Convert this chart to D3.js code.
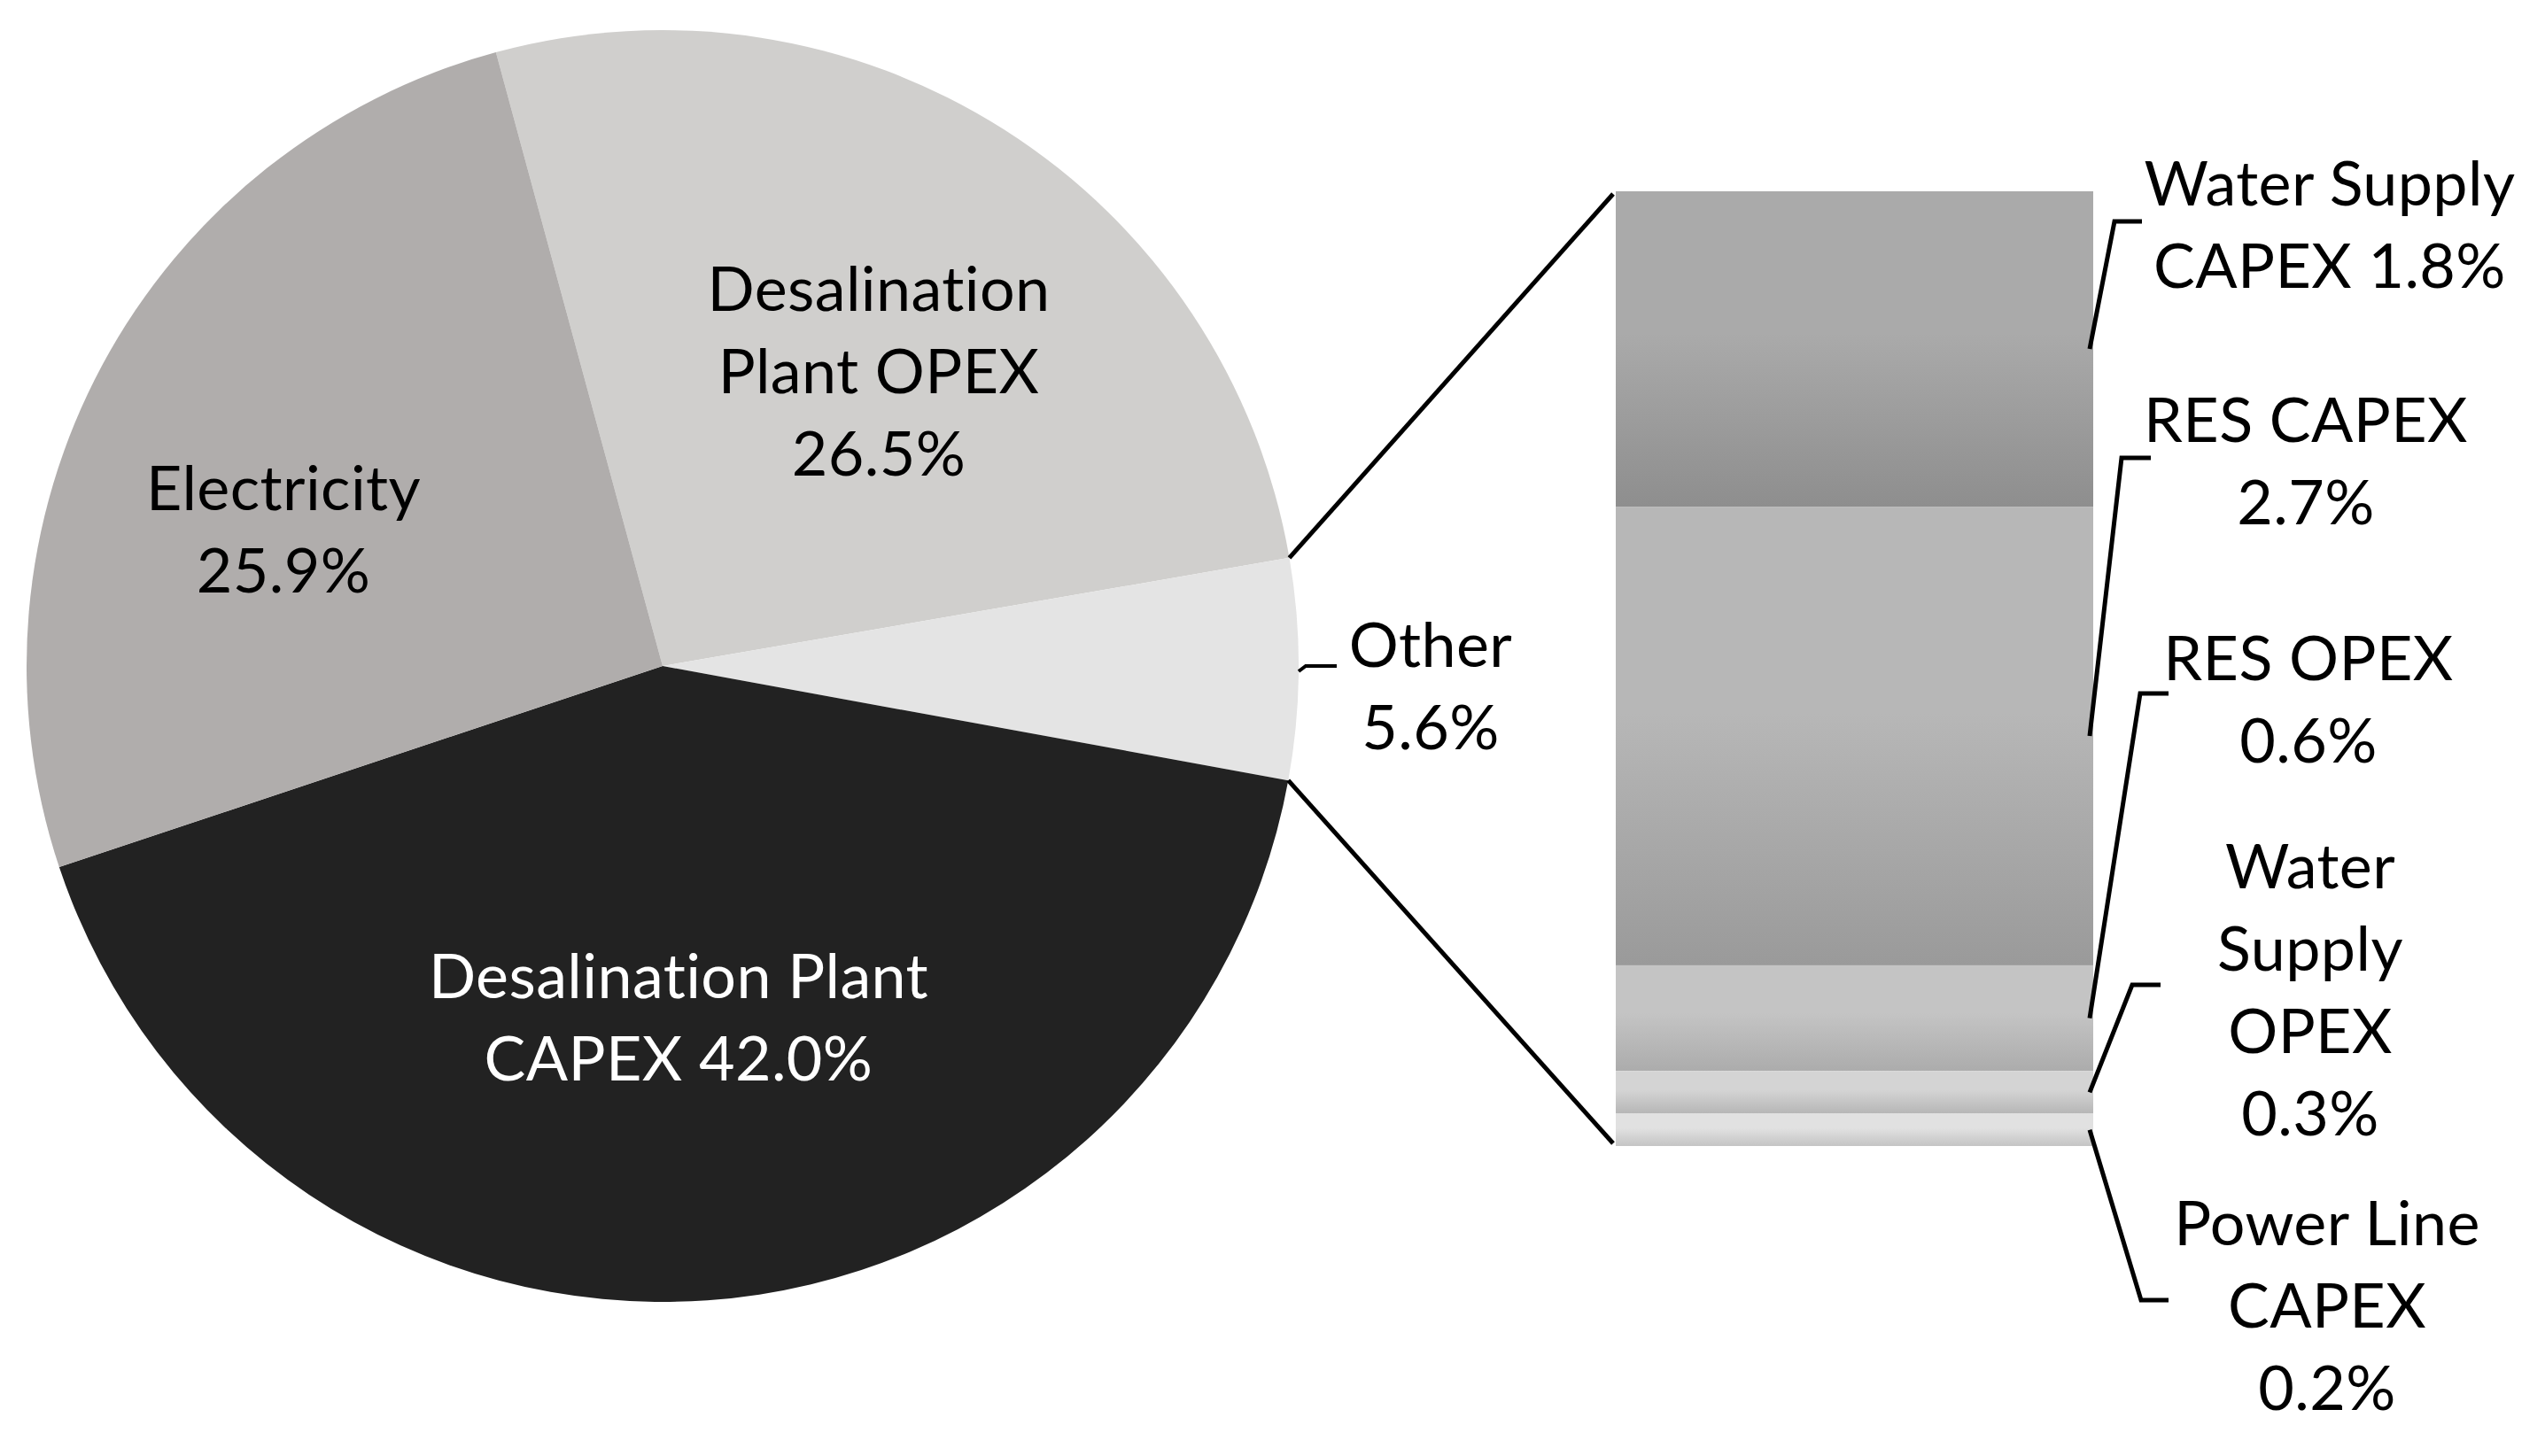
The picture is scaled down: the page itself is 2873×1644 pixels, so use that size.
<!DOCTYPE html>
<html>
<head>
<meta charset="utf-8">
<script src="https://cdn.jsdelivr.net/npm/d3@7"></script>
<style>
  body { margin: 0; background: #fff; }
  svg text, svg tspan {
    font-family: Lato, "Open Sans", sans-serif;
    font-variant-ligatures: none;
    font-feature-settings: "liga" 0, "clig" 0, "dlig" 0, "calt" 0;
  }
</style>
</head>
<body>
<div id="chart"></div>
<script>
// pie data (clockwise, starting with the slice right of 12 o'clock)
var pieNames  = ["Desalination Plant OPEX", "Other", "Desalination Plant CAPEX", "Electricity"];
var pieValues = [26.5, 5.6, 42.0, 25.9];
var pieColors = ["#d0cfcd", "#e4e4e4", "#222222", "#b0adac"];

// breakdown of "Other" (bar, top to bottom)
var otherNames  = ["Water Supply CAPEX", "RES CAPEX", "RES OPEX", "Water Supply OPEX", "Power Line CAPEX"];
var otherValues = [1.85, 2.69, 0.62, 0.25, 0.19];   // segment sizes
var otherLabels = [1.8, 2.7, 0.6, 0.3, 0.2];        // values printed in the labels
var otherTop    = ["#aaaaaa", "#b7b7b7", "#c4c4c4", "#d4d4d4", "#e1e1e1"];
var otherBottom = ["#8e8e8e", "#9a9a9a", "#acacac", "#b6b6b6", "#c4c4c4"];

var fmt = function(v) { return d3.format(".1f")(v) + "%"; };

var width = 2873, height = 1644;
var svg = d3.select("#chart").append("svg")
    .attr("width", width)
    .attr("height", height);

var cx = 748, cy = 752, radius = 718;
var lh = 93, fontSize = 70;
// a small letter-spacing also keeps Chrome from forming the "ti" ligature
var fontStyle = "font-size:" + fontSize + "px;letter-spacing:0.4px";

// ---- pie ----
var otherIdx = 1;
var before = d3.sum(pieValues.slice(0, otherIdx)) + pieValues[otherIdx] / 2;
var start = Math.PI / 2 + 0.005 - before / 100 * 2 * Math.PI;

var pie = d3.pie().sort(null).value(function(d) { return d; })
    .startAngle(start).endAngle(start + 2 * Math.PI);
var arcs = pie(pieValues);
var arc = d3.arc().innerRadius(0).outerRadius(radius);

var g = svg.append("g").attr("transform", "translate(" + cx + "," + cy + ")");
g.selectAll("path.slice")
  .data(arcs)
  .enter().append("path")
    .attr("class", "slice")
    .attr("d", arc)
    .attr("fill", function(d, i) { return pieColors[i]; });

// label text lines for pie slices
var pieLines = [
  ["Desalination", "Plant OPEX", fmt(pieValues[0])],
  ["Other", fmt(pieValues[1])],
  ["Desalination Plant", "CAPEX " + fmt(pieValues[2])],
  ["Electricity", fmt(pieValues[3])]
];
var pieLabelPos = [[992, 351], [1615, 753], [766, 1127], [320, 576]];
var pieLabelColor = ["#000", "#000", "#fff", "#000"];

pieLines.forEach(function(lines, i) {
  var t = svg.append("text")
      .attr("text-anchor", "middle")
      .attr("style", fontStyle)
      .attr("fill", pieLabelColor[i]);
  lines.forEach(function(s, j) {
    t.append("tspan")
      .attr("x", pieLabelPos[i][0])
      .attr("y", pieLabelPos[i][1] + j * lh)
      .text(s);
  });
});

// short leader for "Other"
svg.append("path")
  .attr("d", "M1466,758 L1474,752 L1509,752")
  .attr("fill", "none").attr("stroke", "#000").attr("stroke-width", 4);

// ---- bar ----
var barX0 = 1824, barX1 = 2363;
var y = d3.scaleLinear().domain([0, d3.sum(otherValues)]).range([216, 1294]);
var cum = [];
otherValues.reduce(function(acc, v) { cum.push(acc); return acc + v; }, 0);

var defs = svg.append("defs");
otherValues.forEach(function(v, i) {
  var gr = defs.append("linearGradient")
      .attr("id", "grad" + i)
      .attr("x1", 0).attr("y1", 0).attr("x2", 0).attr("y2", 1);
  gr.append("stop").attr("offset", "0%").attr("stop-color", otherTop[i]);
  gr.append("stop").attr("offset", "45%").attr("stop-color", otherTop[i]);
  gr.append("stop").attr("offset", "100%").attr("stop-color", otherBottom[i]);
});

svg.selectAll("rect.seg")
  .data(otherValues)
  .enter().append("rect")
    .attr("class", "seg")
    .attr("x", barX0)
    .attr("width", barX1 - barX0)
    .attr("y", function(d, i) { return y(cum[i]); })
    .attr("height", function(d, i) { return y(cum[i] + d) - y(cum[i]); })
    .attr("fill", function(d, i) { return "url(#grad" + i + ")"; });

// connector lines from the "Other" slice to the bar
var o = arcs[otherIdx];
var pTop = [cx + radius * Math.sin(o.startAngle), cy - radius * Math.cos(o.startAngle)];
var pBot = [cx + radius * Math.sin(o.endAngle), cy - radius * Math.cos(o.endAngle)];
svg.append("line")
  .attr("x1", pTop[0]).attr("y1", pTop[1])
  .attr("x2", barX0 - 3).attr("y2", y(0) + 3)
  .attr("stroke", "#000").attr("stroke-width", 5);
svg.append("line")
  .attr("x1", pBot[0]).attr("y1", pBot[1])
  .attr("x2", barX0 - 3).attr("y2", y(d3.sum(otherValues)) - 3)
  .attr("stroke", "#000").attr("stroke-width", 5);

// bar labels
var barLines = [
  ["Water Supply", "CAPEX " + fmt(otherLabels[0])],
  ["RES CAPEX", fmt(otherLabels[1])],
  ["RES OPEX", fmt(otherLabels[2])],
  ["Water", "Supply", "OPEX", fmt(otherLabels[3])],
  ["Power Line", "CAPEX", fmt(otherLabels[4])]
];
var barLabelPos = [[2630, 232], [2603, 499], [2606, 768], [2608, 1003], [2627, 1406]];
var elbows = [[2387, 250, 2418], [2395, 517, 2428], [2416, 783, 2448], [2407, 1112, 2439], [2417, 1468, 2448]];

barLines.forEach(function(lines, i) {
  var t = svg.append("text")
      .attr("text-anchor", "middle")
      .attr("style", fontStyle)
      .attr("fill", "#000");
  lines.forEach(function(s, j) {
    t.append("tspan")
      .attr("x", barLabelPos[i][0])
      .attr("y", barLabelPos[i][1] + j * lh)
      .text(s);
  });
  var ym = y(cum[i] + otherValues[i] / 2);
  svg.append("path")
    .attr("d", "M" + (barX1 - 4) + "," + ym + " L" + elbows[i][0] + "," + elbows[i][1] + " L" + elbows[i][2] + "," + elbows[i][1])
    .attr("fill", "none").attr("stroke", "#000").attr("stroke-width", 5);
});
</script>
</body>
</html>
